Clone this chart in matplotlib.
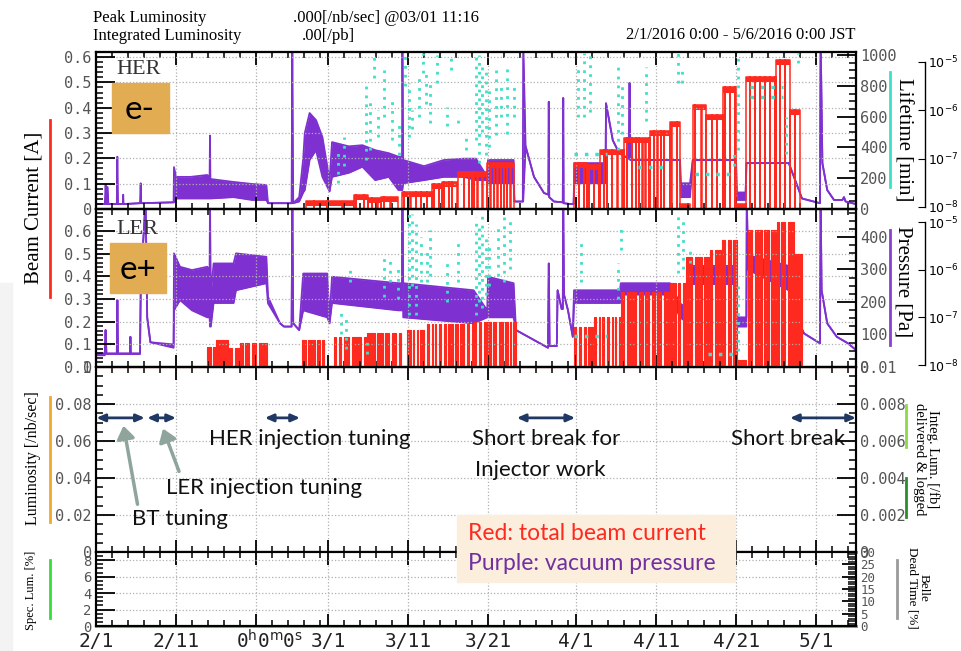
import numpy as np
import matplotlib.pyplot as plt
from matplotlib.ticker import MultipleLocator, FixedLocator, FuncFormatter, LogLocator, NullLocator
from matplotlib.lines import Line2D
from matplotlib.patches import Rectangle, FancyArrowPatch

W, H = 961, 651

# ---------------- data (day 0 = 2/1/2016 0:00 JST) ----------------
tick_days = [0, 10, 20, 29, 39, 49, 60, 70, 80, 90]
tick_labels = ['2/1', '2/11', '', '3/1', '3/11', '3/21', '4/1', '4/11', '4/21', '5/1']

# HER vacuum pressure [Pa] (lower / upper envelope)
her_p_day = [0.0, 1.1, 1.2, 1.3, 1.45, 1.55, 2.6, 2.67, 2.75, 3.35, 3.4, 3.45, 5.5, 5.58, 5.65,
             9.7, 9.75, 10.0, 11.8, 13.9, 14.2, 14.25, 14.3, 17.2, 19.5, 21.3, 21.5, 24.45, 24.54,
             24.65, 25.4, 25.9, 26.1, 26.7, 27.5, 28.3, 29.2, 29.5, 31.6, 33.3, 34.9, 36.6, 37.8,
             38.25, 38.3, 38.4, 41.0, 43.5, 46.0, 47.5, 48.9, 49.0, 52.2, 52.3, 53.35, 53.4, 53.7,
             54.75, 56.0, 56.55, 56.6, 56.65, 57.25, 58.35, 58.4, 58.45, 59.3, 59.7, 59.8, 63.7,
             63.75, 64.6, 65.4, 66.6, 66.7, 66.8, 73.0, 73.1, 74.25, 74.6, 80.0, 80.1, 81.2, 81.3,
             86.6, 88.25, 90.5, 90.58, 90.8, 91.4, 92.25, 93.3, 93.5, 93.7, 95.0]
her_p_lo = [1.15e-8, 1.15e-8, 1.15e-8, 1.15e-8, 1.15e-8, 1.15e-8, 1.15e-8, 1.15e-8, 1.15e-8, 1.15e-8,
            1.15e-8, 1.15e-8, 1.2e-8, 1.2e-8, 1.2e-8, 1.25e-8, 1.25e-8, 1.5e-8, 1.5e-8, 1.5e-8, 1.5e-8,
            1.5e-8, 1.5e-8, 1.6e-8, 1.4e-8, 1.4e-8, 1.2e-8, 1.2e-8, 1.2e-8, 1.2e-8, 1.3e-8, 2.0e-8,
            2.25e-8, 9.4e-8, 1.5e-7, 4.2e-8, 2.1e-8, 4.2e-8, 5.1e-8, 6.8e-8, 3.6e-8, 4.2e-8, 2.25e-8,
            2.25e-8, 2.25e-8, 3.1e-8, 3.6e-8, 4.2e-8, 4.2e-8, 3.6e-8, 3.6e-8, 3.1e-8, 3.1e-8, 1.3e-8,
            1.3e-8, 1.3e-8, 1.8e-7, 4.2e-8, 1.95e-8, 1.8e-8, 1.5e-6, 1.6e-8, 1.3e-8, 1.25e-8, 1.8e-6,
            1.2e-8, 1.15e-8, 1.15e-8, 3.1e-8, 3.1e-8, 1.4e-6, 2.4e-7, 1.3e-7, 1.0e-7, 3.7e-6, 9.4e-8,
            9.4e-8, 1.6e-8, 1.6e-8, 9.4e-8, 9.4e-8, 1.4e-8, 1.4e-8, 8.1e-8, 8.1e-8, 1.5e-8, 1.2e-8,
            3e-5, 8.1e-8, 2.25e-8, 1.4e-8, 1.4e-8, 1.6e-8, 1.3e-8, 1.15e-8]
her_p_hi = [1.15e-8, 1.15e-8, 2.9e-8, 1.15e-8, 2.6e-8, 1.15e-8, 1.15e-8, 1.1e-7, 1.15e-8, 1.15e-8,
            1.8e-8, 1.15e-8, 1.2e-8, 3.1e-8, 1.2e-8, 1.25e-8, 6.7e-8, 4.2e-8, 4.2e-8, 4.6e-8, 4.2e-8,
            3e-7, 3.8e-8, 3.3e-8, 3.0e-8, 2.85e-8, 1.2e-8, 1.2e-8, 3e-5, 1.2e-8, 1.6e-8, 1.0e-7,
            3.4e-7, 8.8e-7, 6.3e-7, 2.8e-7, 3.6e-8, 2.2e-7, 1.8e-7, 1.9e-7, 1.5e-7, 1.3e-7, 1.1e-7,
            1.1e-7, 3e-5, 9.4e-8, 7.0e-8, 9.4e-8, 1.0e-7, 1.0e-7, 4.2e-8, 9.4e-8, 9.4e-8, 1.3e-8,
            1.3e-8, 3e-5, 1.8e-7, 4.2e-8, 1.95e-8, 1.8e-8, 1.5e-6, 1.6e-8, 1.3e-8, 1.25e-8, 1.8e-6,
            1.2e-8, 1.15e-8, 1.15e-8, 8.1e-8, 8.1e-8, 1.4e-6, 2.4e-7, 1.3e-7, 1.0e-7, 3.7e-6, 9.4e-8,
            9.4e-8, 3.1e-8, 3.1e-8, 9.4e-8, 9.4e-8, 2.0e-8, 2.0e-8, 8.1e-8, 8.1e-8, 1.5e-8, 1.2e-8,
            3e-5, 8.1e-8, 2.25e-8, 1.4e-8, 1.4e-8, 1.6e-8, 1.3e-8, 1.15e-8]

# LER vacuum pressure [Pa]
ler_p_day = [0.0, 1.1, 1.2, 1.3, 2.6, 2.67, 2.75, 4.25, 4.3, 4.35, 5.5, 5.6, 6.2, 6.4, 6.8, 9.7,
             9.75, 10.5, 12.0, 13.9, 14.2, 14.25, 14.35, 14.7, 17.2, 17.5, 21.3, 21.5, 23.0, 23.5,
             24.45, 24.54, 24.65, 25.4, 25.9, 28.9, 29.2, 29.5, 37.8, 38.25, 38.3, 38.4, 47.2, 48.9,
             49.0, 52.2, 52.5, 56.5, 56.6, 56.7, 57.6, 57.7, 58.2, 58.35, 58.4, 58.5, 59.0, 59.6,
             59.75, 65.5, 65.6, 71.75, 73.0, 74.25, 74.5, 80.0, 80.1, 81.3, 81.35, 81.5, 86.6, 86.7,
             88.5, 90.5, 90.58, 90.7, 91.4, 92.6, 94.0, 95.0]
ler_p_lo = [1.6e-8, 1.6e-8, 5.4e-8, 1.7e-8, 1.7e-8, 2.3e-7, 1.7e-8, 1.7e-8, 3.9e-8, 1.7e-8, 1.7e-8,
            5e-7, 3e-5, 1e-7, 3e-8, 2.3e-8, 1.4e-7, 2.3e-7, 1.4e-7, 1.0e-7, 1.0e-7, 6.4e-8, 6.4e-8,
            2.0e-7, 2.0e-7, 3.7e-7, 5.2e-7, 1.96e-7, 7.5e-8, 6.4e-8, 6.4e-8, 3e-5, 7.5e-8, 5.4e-8,
            1.4e-7, 1.0e-7, 7.5e-8, 2.0e-7, 1.4e-7, 1.4e-7, 3e-5, 1.0e-7, 7.5e-8, 1.0e-7, 1.0e-7,
            1.0e-7, 5.4e-8, 2.3e-8, 1.35e-6, 2.5e-8, 2.5e-8, 3.7e-7, 1.5e-7, 1.5e-7, 3e-5, 3e-7,
            1.4e-7, 3.9e-8, 2.0e-7, 2.0e-7, 3.0e-7, 3.0e-7, 1.0e-7, 7.0e-8, 5e-7, 5e-7, 6.4e-8,
            6.4e-8, 3e-5, 1e-6, 3.7e-7, 2.0e-7, 4.6e-8, 2.85e-8, 3e-5, 3.7e-7, 7.5e-8, 3.9e-8,
            2.85e-8, 2.06e-8]
ler_p_hi = [1.76e-8, 1.76e-8, 5.4e-8, 1.76e-8, 1.76e-8, 2.3e-7, 1.76e-8, 1.76e-8, 3.9e-8, 1.76e-8,
            1.76e-8, 5e-7, 3e-5, 1e-7, 3e-8, 2.7e-8, 2.2e-6, 1.15e-6, 9.8e-7, 1.15e-6, 1.0e-6, 3e-5,
            3e-7, 1.35e-6, 1.35e-6, 2.2e-6, 1.86e-6, 2.7e-7, 7.5e-8, 6.4e-8, 6.4e-8, 3e-5, 7.5e-8,
            5.4e-8, 8.3e-7, 8.3e-7, 1.0e-7, 7.1e-7, 5.2e-7, 5.2e-7, 3e-5, 5.2e-7, 3.7e-7, 1.4e-7,
            7.1e-7, 5.2e-7, 5.4e-8, 2.3e-8, 1.35e-6, 2.5e-8, 2.5e-8, 3.7e-7, 1.5e-7, 1.5e-7, 3e-5,
            3e-7, 1.4e-7, 3.9e-8, 3.7e-7, 3.7e-7, 5.2e-7, 5.2e-7, 1.96e-7, 1.4e-7, 1.2e-6, 1.2e-6,
            1.0e-7, 1.0e-7, 3e-5, 2e-6, 1.2e-6, 2.0e-7, 4.6e-8, 2.85e-8, 3e-5, 3.7e-7, 7.5e-8,
            3.9e-8, 2.85e-8, 2.06e-8]

# beam current [A]: fills (start day, end day, level) and beam-abort days
her_seg_start = [26.2, 32.3, 34.0, 35.6, 38.2, 42.0, 43.2, 45.3, 47.25, 48.9, 59.75, 61.4, 63.0,
                 66.0, 69.3, 71.75, 73.0, 74.6, 76.3, 78.4, 80.0, 81.25, 85.0, 86.7]
her_seg_end = [32.3, 34.0, 35.6, 37.7, 42.0, 43.2, 45.3, 47.25, 48.9, 52.2, 61.4, 63.0, 66.0,
               69.3, 71.75, 73.0, 74.25, 76.3, 78.4, 80.0, 81.25, 85.0, 86.7, 88.0]
her_seg_level = [0.03, 0.055, 0.043, 0.049, 0.068, 0.10, 0.105, 0.147, 0.145, 0.18, 0.18, 0.175,
                 0.233, 0.28, 0.31, 0.345, 0.02, 0.41, 0.37, 0.48, 0.02, 0.52, 0.59, 0.39]
her_aborts = [27.25, 28.9, 30.8, 32.5, 33.5, 34.5, 35.2, 36.0, 36.8, 38.5, 39.3, 40.0, 40.6, 41.4,
              42.25, 42.9, 43.5, 44.1, 44.5, 45.2, 46.0, 46.6, 47.0, 47.7, 48.3, 49.3, 49.75, 50.2,
              50.6, 51.0, 51.4, 51.8, 60.4, 61.0, 61.6, 62.25, 62.9, 63.5, 63.9, 64.5, 65.2, 65.8,
              66.4, 67.0, 67.5, 67.9, 68.3, 68.7, 69.1, 69.75, 70.2, 70.6, 71.0, 71.95, 72.6, 74.9,
              75.7, 77.0, 77.6, 78.6, 79.25, 79.9, 81.75, 82.4, 83.0, 83.6, 84.25, 84.9, 85.5, 86.1,
              87.4]

ler_seg_start = [13.9, 15.0, 16.5, 18.0, 25.8, 29.75, 33.9, 38.9, 41.4, 47.25, 48.9, 59.75, 62.25,
                 65.6, 71.75, 73.8, 76.75, 78.2, 80.1, 81.5, 85.1, 87.2]
ler_seg_end = [15.0, 16.5, 18.0, 21.4, 28.5, 33.9, 38.1, 41.0, 47.25, 48.9, 52.5, 62.25, 65.6,
               71.75, 73.8, 76.75, 78.2, 80.1, 81.3, 85.1, 87.2, 88.2]
ler_seg_level = [0.09, 0.12, 0.085, 0.105, 0.12, 0.133, 0.148, 0.163, 0.19, 0.2, 0.2, 0.178, 0.22,
                 0.33, 0.37, 0.486, 0.515, 0.56, 0.03, 0.603, 0.64, 0.5]
ler_aborts = [14.5, 16.8, 17.2, 18.5, 19.3, 20.2, 26.4, 27.5, 28.1, 30.2, 30.8, 31.8, 33.3, 34.1,
              35.0, 36.0, 36.8, 37.7, 39.5, 39.95, 40.4, 41.8, 42.25, 42.7, 43.3, 43.9, 44.75, 45.4,
              46.2, 46.8, 47.7, 48.3, 49.5, 50.2, 51.0, 51.6, 52.0, 60.2, 60.8, 61.4, 62.7, 63.1,
              63.7, 64.3, 64.75, 65.2, 66.2, 67.7, 68.5, 69.3, 70.0, 70.8, 71.95, 72.6, 73.2, 74.7,
              75.9, 77.2, 78.0, 78.8, 79.5, 82.2, 83.4, 84.25, 85.5, 86.3]

# beam lifetime [min] scatter, as (day, low, high) streaks
her_lt_day = [30.2, 31.0, 33.7, 34.3, 34.8, 35.2, 36.0, 37.0, 37.9, 38.6, 39.1, 39.5, 40.4, 40.9,
              41.2, 41.8, 42.6, 43.9, 44.4, 45.2, 46.2, 47.5, 47.9, 48.3, 48.7, 49.1, 50.0, 50.6,
              51.4, 52.25, 60.2, 61.0, 61.8, 65.2, 65.8, 68.7, 72.8, 73.2, 79.7, 80.3, 86.3, 87.8]
her_lt_lo = [170, 280, 320, 380, 850, 470, 600, 450, 350, 800, 470, 520, 600, 880, 680, 560, 820,
             540, 900, 560, 380, 450, 300, 500, 350, 400, 480, 600, 490, 600, 600, 600, 630, 380,
             490, 570, 815, 815, 280, 380, 360, 950]
her_lt_hi = [380, 470, 815, 700, 1010, 640, 900, 700, 560, 1010, 815, 640, 860, 1010, 900, 815,
             1000, 660, 1010, 620, 490, 1000, 1000, 950, 900, 800, 920, 815, 920, 815, 920, 1010,
             1010, 920, 815, 920, 1010, 920, 380, 1010, 600, 1010]
her_lt_band_start = [59.75, 67.7, 74.9, 81.75, 81.75]
her_lt_band_end = [63.9, 71.25, 79.25, 85.9, 85.9]
her_lt_band_val = [360, 270, 230, 730, 790]

ler_lt_day = [30.6, 31.2, 31.8, 33.9, 36.0, 36.8, 37.7, 39.1, 39.5, 39.95, 40.6, 41.4, 41.8, 43.9,
              45.2, 47.5, 47.9, 48.3, 48.7, 49.1, 50.2, 51.0, 51.8, 60.6, 65.2, 65.6, 72.8, 73.4,
              74.25, 80.3]
ler_lt_lo = [100, 55, 260, 40, 215, 260, 210, 160, 250, 160, 260, 260, 280, 200, 260, 160, 200,
             180, 220, 250, 280, 260, 300, 260, 210, 360, 290, 300, 320, 50]
ler_lt_hi = [180, 160, 310, 80, 340, 330, 310, 480, 470, 440, 400, 360, 420, 320, 380, 460, 440,
             470, 400, 380, 440, 480, 460, 380, 320, 440, 480, 460, 360, 260]
ler_lt_band_start = [59.75, 76.5]
ler_lt_band_end = [63.9, 80.0]
ler_lt_band_val = [95, 40]

# luminosity, specific luminosity (no collisions yet)
lum_days = [0, 95]
lum_vals = [0, 0]
spec_days = [0, 95]
spec_vals = [0, 0]

RED = '#FF2A1F'
PURPLE = '#7E30D0'
CYAN = '#3FE0C8'
ORANGE = '#F0A830'
GREEN = '#3ADB3A'
NAVY = '#1F3864'

fig = plt.figure(figsize=(9.61, 6.51), dpi=100)


def F(x, y):
    return (x / W, 1 - y / H)


def panel(top, bot):
    return fig.add_axes([96 / W, 1 - bot / H, 760 / W, (bot - top) / H])


minor_days = []
for start, ndays in [(0, 29), (29, 31), (60, 30), (90, 6)]:
    minor_days += [start + dom - 1 for dom in range(3, ndays + 1, 2) if dom not in (11, 21)]

fmt = FuncFormatter(lambda v, p: ('%.4f' % v).rstrip('0').rstrip('.'))


def style_x(ax, show_labels=False):
    ax.set_xlim(0, 95)
    ax.xaxis.set_major_locator(FixedLocator(tick_days))
    ax.xaxis.set_minor_locator(FixedLocator(minor_days))
    ax.tick_params(axis='x', which='both', direction='in', top=True, bottom=True)
    ax.tick_params(axis='x', which='major', length=9, width=1.3)
    ax.tick_params(axis='x', which='minor', length=4, width=1.1)
    if show_labels:
        ax.set_xticklabels(tick_labels)
        ax.tick_params(axis='x', labelsize=14, labelcolor='#222', labelfontfamily='DejaVu Sans Mono', pad=4)
    else:
        ax.set_xticklabels([])
    ax.grid(True, axis='x', which='major', ls=':', color='#b0b0b0', lw=0.9)
    for s in ax.spines.values():
        s.set_linewidth(1.5)


def style_y(ax, lim, major, minor, size=11, grid=False):
    ax.set_ylim(*lim)
    ax.yaxis.set_major_locator(MultipleLocator(major))
    ax.yaxis.set_minor_locator(MultipleLocator(minor))
    ax.yaxis.set_major_formatter(fmt)
    ax.tick_params(axis='y', which='major', direction='in', length=14, width=1.3,
                   labelsize=size, labelcolor='#555', labelfontfamily='DejaVu Sans Mono', pad=3)
    ax.tick_params(axis='y', which='minor', direction='in', length=5, width=1.1)
    if grid:
        ax.grid(True, axis='y', which='major', ls=':', color='#b0b0b0', lw=0.9)


def build_current(starts, ends, levels, aborts, w):
    xs, ys = [0.0], [0.0]
    cuts = sorted(aborts)
    for s, e, lv in zip(starts, ends, levels):
        xs += [s, s]
        ys += [0, lv]
        for c in cuts:
            if s + w < c < e - w:
                xs += [c - w / 2, c - w / 2, c + w / 2, c + w / 2]
                ys += [lv, 0, 0, lv]
        xs += [e, e]
        ys += [lv, 0]
    xs.append(95.0)
    ys.append(0.0)
    return np.array(xs), np.array(ys)


def ring_panel(top, bot, cur_lim, lt_lim, lt_major, lt_minor, p_lim):
    ax = panel(top, bot)
    axP = ax.twinx()
    axL = ax.twinx()
    ax.set_zorder(2)
    axP.set_zorder(1)
    axL.set_zorder(3)
    ax.patch.set_visible(False)
    style_x(ax)
    style_y(ax, cur_lim, 0.1, 0.02, grid=True)
    axP.set_yscale('log')
    axP.set_ylim(*p_lim)
    axP.yaxis.set_major_locator(NullLocator())
    axP.yaxis.set_minor_locator(NullLocator())
    style_y(axL, lt_lim, lt_major, lt_minor)
    for a in (axP, axL):
        for s in a.spines.values():
            s.set_linewidth(1.5)
    return ax, axP, axL


def log_side(top, bot):
    a = fig.add_axes([920 / W, 1 - bot / H, 5 / W, (bot - top) / H])
    a.set_yscale('log')
    a.set_ylim(1e-8, 1e-5)
    a.set_xticks([])
    for s in ['left', 'top', 'bottom']:
        a.spines[s].set_visible(False)
    a.spines['right'].set_linewidth(1.0)
    a.patch.set_visible(False)
    a.yaxis.tick_right()
    a.yaxis.set_major_locator(LogLocator(base=10, numticks=10))
    a.yaxis.set_minor_locator(NullLocator())
    a.tick_params(axis='y', direction='in', length=5, labelsize=9, pad=2)


# ---------------- HER panel ----------------
ax1, ax1P, ax1L = ring_panel(52, 209, (0, 0.62), (0, 1019.5), 200, 50, (10 ** -8.041, 10 ** -4.793))
ax1P.fill_between(her_p_day, her_p_lo, her_p_hi, color=PURPLE, lw=0)
ax1P.plot(her_p_day, her_p_lo, color=PURPLE, lw=1.3)
ax1P.plot(her_p_day, her_p_hi, color=PURPLE, lw=1.3)
hx, hy = build_current(her_seg_start, her_seg_end, her_seg_level, her_aborts, 0.05)
ax1.fill_between(hx, np.clip(hy - 0.02, 0, None), hy, color=RED, lw=0)
ax1.plot(hx, hy, color=RED, lw=1.1, clip_on=False)
ax1L.vlines(her_lt_day, her_lt_lo, her_lt_hi, colors=CYAN, linestyles=[(0, (1, 2.2))], lw=2.0)
ax1L.hlines(her_lt_band_val, her_lt_band_start, her_lt_band_end, colors=CYAN,
            linestyles=[(0, (1, 2.0))], lw=2.5)
log_side(62, 207)

# ---------------- LER panel ----------------
ax2, ax2P, ax2L = ring_panel(209, 367, (0, 0.697), (0, 486), 100, 25, (10 ** -8.042, 10 ** -4.727))
ax2P.fill_between(ler_p_day, ler_p_lo, ler_p_hi, color=PURPLE, lw=0)
ax2P.plot(ler_p_day, ler_p_lo, color=PURPLE, lw=1.3)
ax2P.plot(ler_p_day, ler_p_hi, color=PURPLE, lw=1.3)
lx, ly = build_current(ler_seg_start, ler_seg_end, ler_seg_level, ler_aborts, 0.3)
ax2.fill_between(lx, 0, ly, color=RED, lw=0)
ax2.plot(lx, ly, color=RED, lw=0.8, clip_on=False)
ax2L.vlines(ler_lt_day, ler_lt_lo, ler_lt_hi, colors=CYAN, linestyles=[(0, (1, 2.2))], lw=2.0)
ax2L.hlines(ler_lt_band_val, ler_lt_band_start, ler_lt_band_end, colors=CYAN,
            linestyles=[(0, (1, 2.0))], lw=2.5)
log_side(222, 365)

# ---------------- luminosity panel ----------------
ax3 = panel(367, 552)
style_x(ax3)
style_y(ax3, (0, 0.1), 0.02, 0.005, grid=True)
ax3R = ax3.twinx()
style_y(ax3R, (0, 0.01), 0.002, 0.0005)
for s in ax3R.spines.values():
    s.set_linewidth(1.5)
ax3.plot(lum_days, lum_vals, color=ORANGE, lw=2.2, clip_on=False, zorder=5)

# ---------------- specific luminosity panel ----------------
ax4 = panel(552, 626)
style_x(ax4, show_labels=True)
style_y(ax4, (0, 9), 2, 0.5, size=10, grid=True)
ax4R = ax4.twinx()
style_y(ax4R, (0, 30), 5, 1, size=9)
ax4R.tick_params(axis='y', which='major', length=10)
ax4R.tick_params(axis='y', which='minor', length=6)
for s in ax4R.spines.values():
    s.set_linewidth(1.5)
ax4.plot(spec_days, spec_vals, color=GREEN, lw=2.2, clip_on=False, zorder=5)
fig.text(*F(270, 641), r'0$^{\rm h}$0$^{\rm m}$0$^{\rm s}$', family='DejaVu Sans Mono',
         fontsize=14, color='#222', ha='center', va='center')

# ---------------- header ----------------
serif = 'Liberation Serif'
fig.text(*F(93, 18), 'Peak Luminosity', family=serif, fontsize=12, va='center')
fig.text(*F(293, 18), '.000[/nb/sec] @03/01 11:16', family=serif, fontsize=12, va='center')
fig.text(*F(93, 36), 'Integrated Luminosity', family=serif, fontsize=12, va='center')
fig.text(*F(302, 36), '.00[/pb]', family=serif, fontsize=12, va='center')
fig.text(*F(856, 35), '2/1/2016 0:00 - 5/6/2016 0:00 JST', family=serif, fontsize=12,
         va='center', ha='right')

# ---------------- axis titles with colour keys ----------------
fig.text(*F(34, 208), 'Beam Current [A]', family=serif, fontsize=15, rotation=90, ha='center', va='center')
fig.text(*F(33, 458), 'Luminosity [/nb/sec]', family=serif, fontsize=11.5, rotation=90, ha='center', va='center')
fig.text(*F(31, 590), 'Spec. Lum. [%]', family=serif, fontsize=9, rotation=90, ha='center', va='center')
fig.text(*F(903, 140), 'Lifetime [min]', family=serif, fontsize=15, rotation=-90, ha='center', va='center')
fig.text(*F(903, 282), 'Pressure [Pa]', family=serif, fontsize=15, rotation=-90, ha='center', va='center')
fig.text(*F(926, 459), 'Integ. Lum. [/fb]\ndelivered & logged', family=serif, fontsize=10.5,
         rotation=-90, ha='center', va='center', multialignment='center', linespacing=1.0)
fig.text(*F(918, 588), 'Belle\nDead Time [%]', family=serif, fontsize=9.5,
         rotation=-90, ha='center', va='center', multialignment='center', linespacing=1.0)

for x, y0, y1, c in [(50, 120, 297, RED), (50, 397, 522, ORANGE), (50, 560, 618, GREEN),
                     (890, 72, 187, CYAN), (890, 230, 345, '#8A40D0'), (906, 405, 447, '#8CD948'),
                     (906, 478, 517, '#2E8B2E'), (897, 560, 618, '#9a9a9a')]:
    fig.add_artist(Line2D([x / W, x / W], [1 - y0 / H, 1 - y1 / H], color=c, lw=2))

fig.add_artist(Rectangle(F(0, 651), 12 / W, 368 / H, color='#F3F3F3', zorder=0))

# ---------------- ring labels ----------------
fig.text(*F(139, 70), 'HER', family=serif, fontsize=16, color='#333', ha='center', va='center')
fig.text(*F(137, 230), 'LER', family=serif, fontsize=16, color='#333', ha='center', va='center')
fig.add_artist(Rectangle(F(112, 133), 57 / W, 50 / H, color='#E2AD52', zorder=10))
fig.add_artist(Rectangle(F(110, 293), 56 / W, 50 / H, color='#E2AD52', zorder=10))
fig.text(*F(140, 110), 'e-', family='Lato', fontsize=24, ha='center', va='center', zorder=11)
fig.text(*F(138, 270), 'e+', family='Lato', fontsize=24, ha='center', va='center', zorder=11)

# ---------------- colour legend box ----------------
fig.add_artist(Rectangle(F(457, 582), 278 / W, 67 / H, color='#FBEEDD', zorder=10))
fig.text(*F(468, 533), 'Red: total beam current', family='Lato', fontsize=16.5, color=RED,
         va='center', zorder=11)
fig.text(*F(468, 564), 'Purple: vacuum pressure', family='Lato', fontsize=16.5, color='#7030A0',
         va='center', zorder=11)

# ---------------- run-period annotations ----------------
for a, b in [(0.05, 6.1), (6.4, 10.0), (21.1, 25.5), (52.6, 59.9), (86.75, 95.0)]:
    ax3.annotate('', xy=(a, 0.0725), xytext=(b, 0.0725),
                 arrowprops=dict(arrowstyle='<|-|>,head_length=0.5,head_width=0.22',
                                 color=NAVY, lw=2, shrinkA=0, shrinkB=0))
note = dict(family='Lato', fontsize=16, color='#111', ha='center', va='center')
fig.text(*F(310, 439), 'HER injection tuning', **note)
fig.text(*F(546, 439), 'Short break for', **note)
fig.text(*F(540, 470), 'Injector work', **note)
fig.text(*F(788, 439), 'Short break', **note)
fig.text(*F(264, 488), 'LER injection tuning', **note)
fig.text(*F(180, 519), 'BT tuning', **note)
for (x0, y0), (x1, y1) in [((138, 507), (123, 423)), ((180, 474), (162, 426))]:
    fig.add_artist(FancyArrowPatch(
        F(x0, y0), F(x1, y1), transform=fig.transFigure, arrowstyle='-|>,head_length=5,head_width=3.5',
        color='#8FA59B', lw=2.5, mutation_scale=1.5))

fig.savefig('out.png', dpi=100)
